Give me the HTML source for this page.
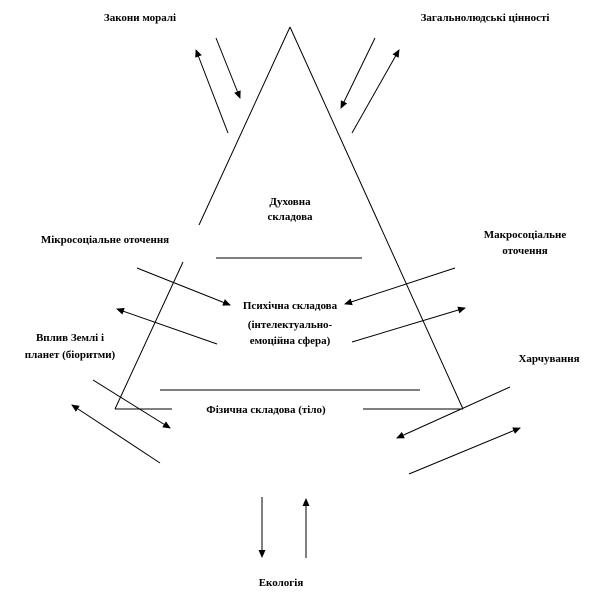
<!DOCTYPE html>
<html><head><meta charset="utf-8"><style>
html,body{margin:0;padding:0;background:#fff;}
svg{display:block;}
text{font-family:"Liberation Serif",serif;font-weight:bold;font-size:11px;fill:#000;text-anchor:middle;}
</style></head><body>
<svg width="602" height="606" viewBox="0 0 602 606" xmlns="http://www.w3.org/2000/svg">
<defs>
<marker id="a" markerWidth="8" markerHeight="8" refX="7" refY="4" orient="auto" markerUnits="userSpaceOnUse">
<path d="M0,0.5 L8,4 L0,7.5 Z" fill="#000"/>
</marker>
</defs>
<g stroke="#000" stroke-width="1" fill="none">
<line x1="290" y1="27" x2="199" y2="225"/>
<line x1="183" y1="262" x2="115" y2="409"/>
<line x1="290" y1="27" x2="463" y2="409"/>
<line x1="115" y1="409" x2="172" y2="409"/>
<line x1="363" y1="409" x2="463" y2="409"/>
<line x1="216" y1="258" x2="362" y2="258"/>
<line x1="160" y1="390" x2="420" y2="390"/>
<line x1="216" y1="38" x2="240" y2="98" marker-end="url(#a)"/>
<line x1="228" y1="133" x2="196" y2="50" marker-end="url(#a)"/>
<line x1="375" y1="38" x2="341" y2="108" marker-end="url(#a)"/>
<line x1="352" y1="133" x2="399" y2="50" marker-end="url(#a)"/>
<line x1="137" y1="268" x2="230" y2="305" marker-end="url(#a)"/>
<line x1="217" y1="344" x2="117" y2="309" marker-end="url(#a)"/>
<line x1="455" y1="268" x2="345" y2="304" marker-end="url(#a)"/>
<line x1="352" y1="342" x2="465" y2="308" marker-end="url(#a)"/>
<line x1="93" y1="380" x2="170" y2="428" marker-end="url(#a)"/>
<line x1="160" y1="463" x2="72" y2="405" marker-end="url(#a)"/>
<line x1="510" y1="387" x2="397" y2="438" marker-end="url(#a)"/>
<line x1="409" y1="474" x2="520" y2="428" marker-end="url(#a)"/>
<line x1="262" y1="497" x2="262" y2="557" marker-end="url(#a)"/>
<line x1="306" y1="558" x2="306" y2="499" marker-end="url(#a)"/>
</g>
<text x="140" y="21">Закони моралі</text>
<text x="485" y="21">Загальнолюдські цінності</text>
<text x="290" y="205">Духовна</text>
<text x="290" y="220">складова</text>
<text x="105" y="243">Мікросоціальне оточення</text>
<text x="525" y="238">Макросоціальне</text>
<text x="525" y="254">оточення</text>
<text x="290" y="309">Психічна складова</text>
<text x="290" y="328">(інтелектуально-</text>
<text x="290" y="344">емоційна сфера)</text>
<text x="70" y="341">Вплив Землі і</text>
<text x="70" y="358">планет (біоритми)</text>
<text x="549" y="362">Харчування</text>
<text x="266" y="413">Фізична складова (тіло)</text>
<text x="281" y="586">Екологія</text>
</svg>
</body></html>
